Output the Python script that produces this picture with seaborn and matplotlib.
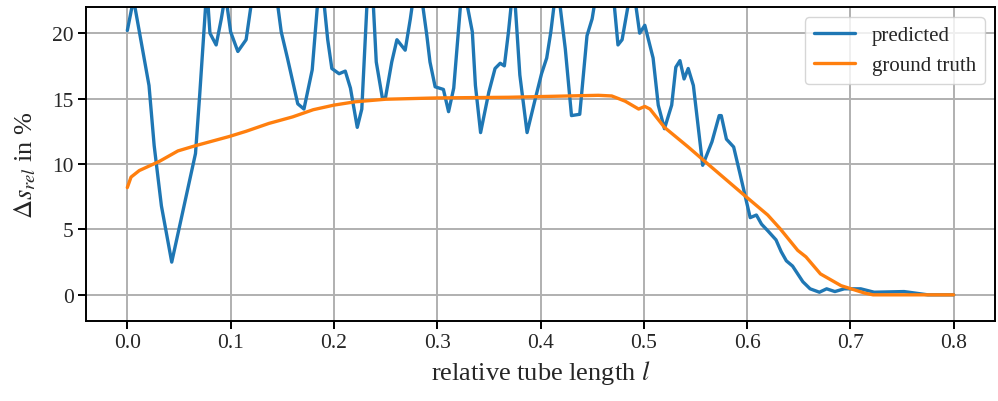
import numpy as np
import pandas as pd
import matplotlib
matplotlib.use("Agg")
import matplotlib.pyplot as plt
import seaborn as sns

# ---- data ----
pred_x = [0.000, 0.006, 0.021, 0.026, 0.033, 0.043, 0.066, 0.070, 0.077, 0.080,
          0.086, 0.091, 0.095, 0.100, 0.107, 0.115, 0.125, 0.135, 0.145, 0.149,
          0.155, 0.165, 0.171, 0.179, 0.187, 0.194, 0.198, 0.205, 0.211, 0.216,
          0.2226, 0.227, 0.235, 0.241, 0.247, 0.250, 0.256, 0.261, 0.269, 0.274,
          0.281, 0.290, 0.293, 0.298, 0.306, 0.311, 0.316, 0.3245, 0.334, 0.337,
          0.342, 0.350, 0.356, 0.361, 0.365, 0.369, 0.374, 0.380, 0.387, 0.395,
          0.401, 0.406, 0.410, 0.416, 0.424, 0.430, 0.438, 0.445, 0.450, 0.460,
          0.471, 0.475, 0.479, 0.489, 0.496, 0.501, 0.509, 0.514, 0.520, 0.527,
          0.531, 0.535, 0.539, 0.543, 0.548, 0.557, 0.566, 0.573, 0.575, 0.580,
          0.587, 0.593, 0.598, 0.603, 0.609, 0.614, 0.620, 0.628, 0.633,
          0.638, 0.644, 0.649, 0.654, 0.661, 0.670, 0.677, 0.685, 0.694, 0.710,
          0.723, 0.752, 0.775, 0.800]
pred_y = [20.2, 22.6, 16.0, 11.4, 6.8, 2.5, 10.8, 15.2, 23.5, 20.0,
          19.1, 21.1, 23.0, 20.1, 18.6, 19.5, 25.0, 27.0, 22.5, 20.1,
          18.1, 14.6, 14.2, 17.2, 25.0, 19.5, 17.3, 16.9, 17.1, 15.8,
          12.8, 14.2, 27.0, 17.8, 15.0, 15.1, 17.8, 19.5, 18.7, 21.1,
          25.0, 19.8, 17.8, 15.9, 15.7, 14.0, 15.8, 24.0, 20.1, 16.0,
          12.4, 15.5, 17.3, 17.7, 17.5, 20.1, 24.0, 16.8, 12.4, 15.0,
          16.9, 18.1, 20.1, 24.0, 18.8, 13.7, 13.8, 19.8, 21.1, 26.0,
          22.5, 19.1, 19.5, 24.0, 20.0, 20.6, 18.1, 14.5, 12.7, 14.5,
          17.4, 17.9, 16.5, 17.3, 16.0, 9.9, 11.7, 13.7, 13.7, 11.9,
          11.3, 9.3, 7.6, 5.9, 6.1, 5.4, 4.9, 4.2, 3.3,
          2.6, 2.2, 1.6, 1.0, 0.46, 0.2, 0.46, 0.25, 0.46, 0.46,
          0.2, 0.25, 0.0, 0.0]

gt_x = [0.000, 0.0036, 0.0116, 0.031, 0.049, 0.066, 0.0986, 0.115, 0.137, 0.160,
        0.180, 0.200, 0.220, 0.250, 0.300, 0.369, 0.456, 0.469, 0.482, 0.495,
        0.501, 0.506, 0.520, 0.543, 0.562, 0.596, 0.620, 0.632, 0.649, 0.657,
        0.671, 0.691, 0.714, 0.722, 0.760, 0.800]
gt_y = [8.2, 9.0, 9.5, 10.2, 11.0, 11.4, 12.1, 12.5, 13.1, 13.6,
        14.15, 14.5, 14.75, 14.95, 15.05, 15.1, 15.25, 15.2, 14.8, 14.2,
        14.4, 14.2, 12.8, 11.3, 10.0, 7.7, 6.1, 5.05, 3.4, 2.9,
        1.6, 0.7, 0.13, 0.0, 0.0, 0.0]

x_ticks = [0.0, 0.1, 0.2, 0.3, 0.4, 0.5, 0.6, 0.7, 0.8]
y_ticks = [0, 5, 10, 15, 20]

# ---- style ----
sns.set_style("ticks")
plt.rcParams["font.family"] = ["Liberation Serif", "DejaVu Serif"]
plt.rcParams["mathtext.fontset"] = "stix"

fig = plt.figure(figsize=(9.98, 4.02), dpi=100)
ax = fig.add_axes([86 / 998, 1 - 322 / 402, (995 - 86) / 998, (322 - 8) / 402])

df_pred = pd.DataFrame({"x": pred_x, "y": pred_y})
df_gt = pd.DataFrame({"x": gt_x, "y": gt_y})
sns.lineplot(data=df_pred, x="x", y="y", ax=ax, color="#1f77b4", lw=2.4,
             label="predicted", sort=False)
sns.lineplot(data=df_gt, x="x", y="y", ax=ax, color="#ff7f0e", lw=2.4,
             label="ground truth", sort=False)

ax.set_xlim(-0.04, 0.84)
ax.set_ylim(-2, 22)
ax.set_xticks(x_ticks)
ax.set_xticklabels([f"{v:.1f}" for v in x_ticks])
ax.set_yticks(y_ticks)
ax.grid(True, color="#b0b0b0", lw=1.4)
for s in ax.spines.values():
    s.set_linewidth(1.4)
    s.set_color("black")
ax.tick_params(axis="both", labelsize=15.5, length=5.5, width=1.4, color="black")

ax.set_xlabel("relative tube length $l$", fontsize=19)
ax.set_ylabel(r"$\Delta s_{rel}$ in %", fontsize=19, labelpad=10)

leg = ax.legend(loc="upper right", fontsize=15, frameon=True)
leg.get_frame().set_edgecolor("#cccccc")

fig.savefig("out.png", dpi=100)
